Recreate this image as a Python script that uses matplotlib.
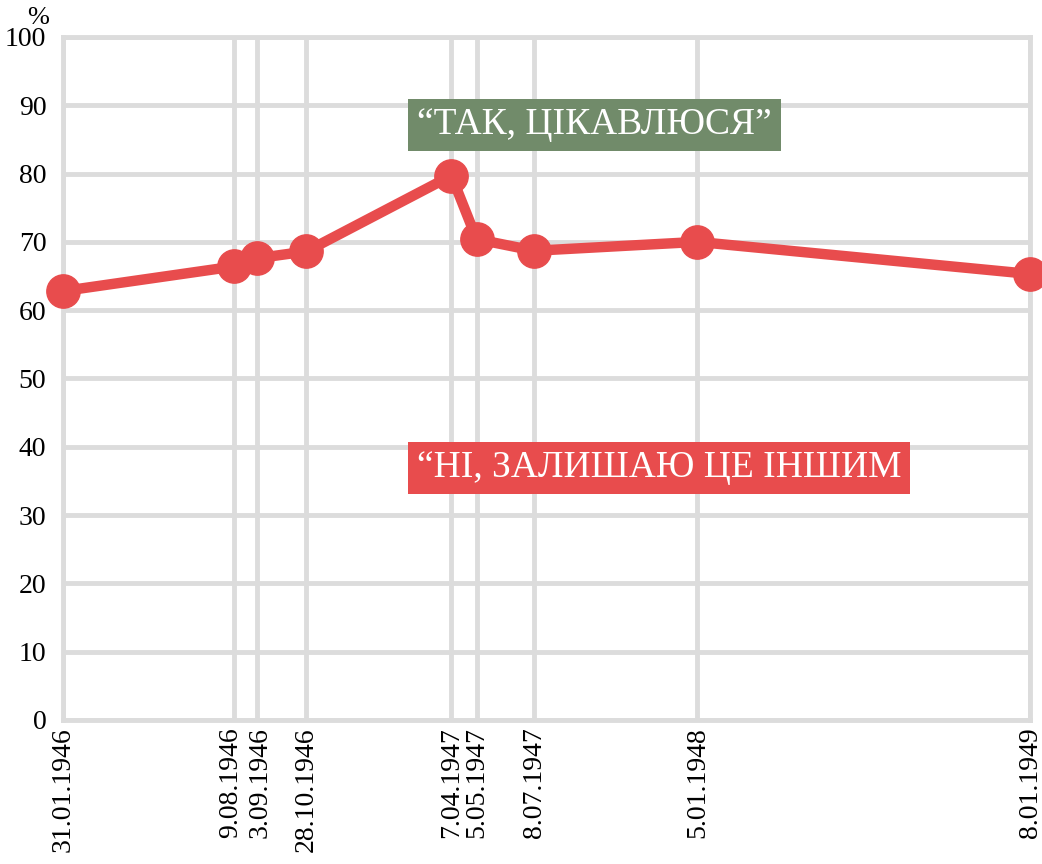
#!/usr/bin/env python3

import matplotlib
matplotlib.use("Agg")
import matplotlib.pyplot as plt
import matplotlib.transforms as mtransforms
from datetime import datetime

# survey dates and share answering "yes, interested" (%)
dates = ["31.01.1946", "9.08.1946", "3.09.1946", "28.10.1946", "7.04.1947",
         "5.05.1947", "8.07.1947", "5.01.1948", "8.01.1949"]
values = [62.8, 66.4, 67.6, 68.6, 79.7, 70.4, 68.7, 70.0, 65.3]
yticks = list(range(0, 101, 10))

yes_label = "\u201cТАК, ЦІКАВЛЮСЯ\u201d"
no_label = "\u201cНІ, ЗАЛИШАЮ ЦЕ ІНШИМ"

red = '#e84c4d'
green = '#718b6a'
grid_col = '#dcdcdc'

plt.rcParams['font.family'] = ['Liberation Serif', 'DejaVu Serif']

x = [datetime.strptime(d, "%d.%m.%Y") for d in dates]

fig = plt.figure(figsize=(10.42, 8.64), dpi=100)
ax = fig.add_axes([0.0605, 0.1667, 0.928, 0.7905])

ax.plot(x, values, color=red, lw=7.5, marker='o', markersize=24,
        clip_on=False, zorder=5)

ax.set_xlim(x[0], x[-1])
ax.set_ylim(0, 100)
ax.set_xticks(x)
ax.set_xticklabels(dates, rotation=90, ha='center', va='top', fontsize=20)
ax.set_yticks(yticks)
ax.set_yticklabels([str(v) for v in yticks], fontsize=20)
ax.tick_params(axis='both', length=0)
ax.tick_params(axis='x', pad=5)
ax.tick_params(axis='y', pad=12)

# the two close August/September labels are nudged apart a little
ticks = ax.xaxis.get_major_ticks()
for i, dx in [(1, -4), (2, 3)]:
    lab = ticks[i].label1
    lab.set_transform(lab.get_transform() +
                      mtransforms.ScaledTranslation(dx / 100, 0, fig.dpi_scale_trans))

ax.grid(True, color=grid_col, lw=3.5)
ax.set_axisbelow(True)
for side in ['left', 'bottom', 'top', 'right']:
    ax.spines[side].set_color(grid_col)
    ax.spines[side].set_linewidth(3.5)

ax.text(-0.026, 1.028, "%", transform=ax.transAxes, fontsize=19,
        ha='center', va='center')

ax.text(0.366, 0.871, yes_label, transform=ax.transAxes, fontsize=27,
        color='white', ha='left', va='center', zorder=6,
        bbox=dict(boxstyle='square,pad=0.24', fc=green, ec='none'))
ax.text(0.366, 0.369, no_label, transform=ax.transAxes, fontsize=27,
        color='white', ha='left', va='center', zorder=6,
        bbox=dict(boxstyle='square,pad=0.24', fc=red, ec='none'))

fig.savefig("out.png", dpi=100)
plt.close(fig)
